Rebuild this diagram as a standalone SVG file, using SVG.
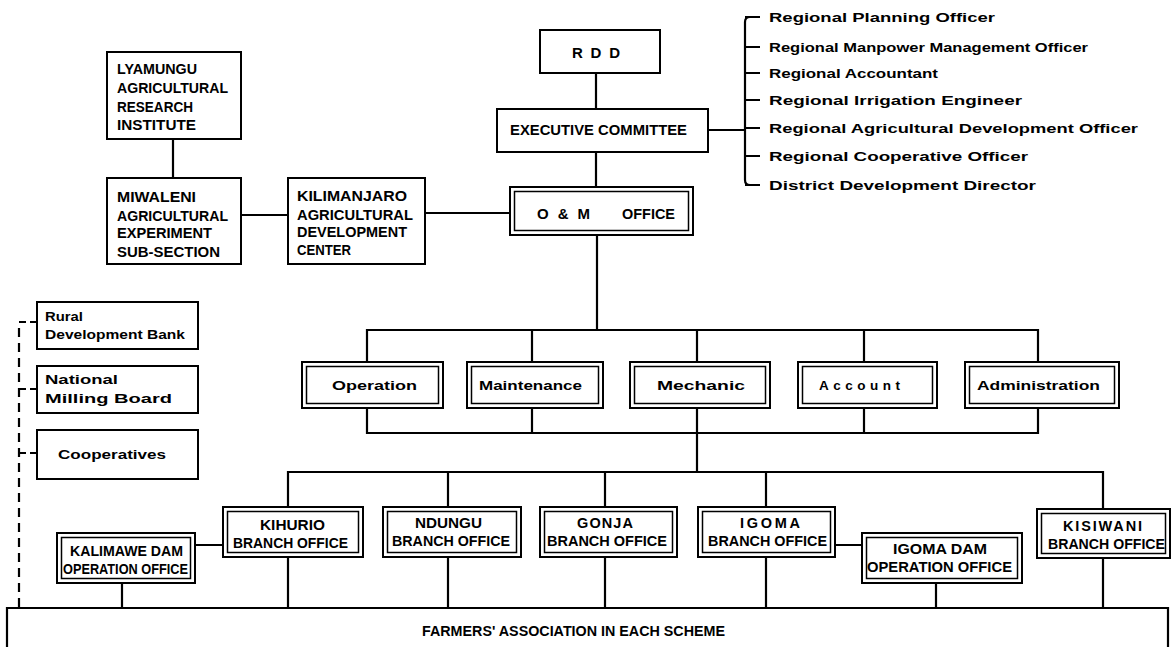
<svg xmlns="http://www.w3.org/2000/svg" width="1171" height="647" viewBox="0 0 1171 647">
<style>
.bx{fill:#fff;stroke:#000;stroke-width:2}
.in{fill:none;stroke:#000;stroke-width:1.5}
.ln{fill:none;stroke:#000;stroke-width:2.2}
.ds{fill:none;stroke:#000;stroke-width:2.2;stroke-dasharray:9 6}
text{font-family:"Liberation Sans",Arial,sans-serif;font-weight:bold;fill:#000}
.t{font-size:15px}
.s{font-size:14.5px}
.r{font-size:13.5px}
</style>
<rect width="1171" height="647" fill="#fff"/>
<g id="connectors">
<path class="ln" d="M173 139V178M241 215H288M425 213H510M596 73V109M596 152V187"/>
<path class="ln" d="M708 130H745M750 17Q745 17 745 22V180Q745 185 750 185M745 17H760M745 47H760M745 73H760M745 100H760M745 128H760M745 156H760M745 185H760"/>
<path class="ln" d="M597 235V330M367 362V330H1038V362M532 330V362M697 330V362M864 330V362"/>
<path class="ln" d="M367 408V433H1038V408M532 408V433M697 408V433M864 408V433M697 433V472"/>
<path class="ln" d="M288 507V472H1103V509M448 472V507M605 472V507M766 472V507"/>
<path class="ln" d="M195 545H223M835 545H862"/>
<path class="ln" d="M122 583V608M288 557V608M448 557V608M605 557V608M766 557V608M936 583V608M1103 558V608"/>
<path class="ds" d="M19 607V322"/>
<path class="ln" d="M19 322H26M30 322H37M19 389H26M30 389H37M19 453H26M30 453H37"/>
</g>
<g id="lyamungu"><rect class="bx" x="107" y="52" width="134" height="87"/>
<text class="t" x="117" y="74" textLength="80" lengthAdjust="spacingAndGlyphs">LYAMUNGU</text>
<text class="t" x="117" y="93" textLength="111" lengthAdjust="spacingAndGlyphs">AGRICULTURAL</text>
<text class="t" x="117" y="112" textLength="76" lengthAdjust="spacingAndGlyphs">RESEARCH</text>
<text class="t" x="117" y="130" textLength="79" lengthAdjust="spacingAndGlyphs">INSTITUTE</text></g>
<g id="miwaleni"><rect class="bx" x="107" y="178" width="134" height="86"/>
<text class="t" x="117" y="202" textLength="79" lengthAdjust="spacingAndGlyphs">MIWALENI</text>
<text class="t" x="117" y="221" textLength="111" lengthAdjust="spacingAndGlyphs">AGRICULTURAL</text>
<text class="t" x="117" y="238" textLength="95" lengthAdjust="spacingAndGlyphs">EXPERIMENT</text>
<text class="t" x="117" y="257" textLength="103" lengthAdjust="spacingAndGlyphs">SUB-SECTION</text></g>
<g id="kilimanjaro"><rect class="bx" x="288" y="178" width="137" height="86"/>
<text class="t" x="297" y="201" textLength="110" lengthAdjust="spacingAndGlyphs">KILIMANJARO</text>
<text class="t" x="297" y="220" textLength="116" lengthAdjust="spacingAndGlyphs">AGRICULTURAL</text>
<text class="t" x="297" y="237" textLength="110" lengthAdjust="spacingAndGlyphs">DEVELOPMENT</text>
<text class="t" x="297" y="255" textLength="54" lengthAdjust="spacingAndGlyphs">CENTER</text></g>
<g id="rdd"><rect class="bx" x="540" y="30" width="120" height="43"/>
<text class="t" x="572" y="58" textLength="48" lengthAdjust="spacing">RDD</text></g>
<g id="exec"><rect class="bx" x="497" y="109" width="211" height="43"/>
<text class="t" x="510" y="135" textLength="177" lengthAdjust="spacingAndGlyphs">EXECUTIVE  COMMITTEE</text></g>
<g id="om"><rect class="bx" x="510" y="187" width="183" height="48"/><rect class="in" x="514.5" y="191.5" width="174" height="39"/>
<text class="t" x="537" y="219" textLength="53" lengthAdjust="spacing">O &amp; M</text>
<text class="t" x="622" y="219" textLength="53" lengthAdjust="spacingAndGlyphs">OFFICE</text></g>
<g id="regional-list">
<text class="r" x="769" y="22" textLength="226" lengthAdjust="spacingAndGlyphs">Regional Planning Officer</text>
<text class="r" x="769" y="52" textLength="319" lengthAdjust="spacingAndGlyphs">Regional Manpower Management Officer</text>
<text class="r" x="769" y="78" textLength="169" lengthAdjust="spacingAndGlyphs">Regional Accountant</text>
<text class="r" x="769" y="105" textLength="253" lengthAdjust="spacingAndGlyphs">Regional Irrigation Engineer</text>
<text class="r" x="769" y="133" textLength="369" lengthAdjust="spacingAndGlyphs">Regional Agricultural Development Officer</text>
<text class="r" x="769" y="161" textLength="259" lengthAdjust="spacingAndGlyphs">Regional Cooperative Officer</text>
<text class="r" x="769" y="190" textLength="267" lengthAdjust="spacingAndGlyphs">District Development Director</text></g>
<g id="rural"><rect class="bx" x="37" y="302" width="161" height="47"/>
<text class="r" x="45" y="321" textLength="38" lengthAdjust="spacingAndGlyphs">Rural</text>
<text class="r" x="45" y="339" textLength="140" lengthAdjust="spacingAndGlyphs">Development Bank</text></g>
<g id="milling"><rect class="bx" x="37" y="366" width="161" height="47"/>
<text class="r" x="45" y="384" textLength="73" lengthAdjust="spacingAndGlyphs">National</text>
<text class="r" x="45" y="403" textLength="127" lengthAdjust="spacingAndGlyphs">Milling Board</text></g>
<g id="coop"><rect class="bx" x="37" y="430" width="161" height="49"/>
<text class="r" x="58" y="459" textLength="108" lengthAdjust="spacingAndGlyphs">Cooperatives</text></g>
<g id="operation"><rect class="bx" x="302" y="362" width="141" height="46"/><rect class="in" x="306.5" y="366.5" width="132" height="37"/>
<text class="r" x="332" y="390" textLength="85" lengthAdjust="spacingAndGlyphs">Operation</text></g>
<g id="maintenance"><rect class="bx" x="467" y="362" width="136" height="46"/><rect class="in" x="471.5" y="366.5" width="127" height="37"/>
<text class="r" x="479" y="390" textLength="103" lengthAdjust="spacingAndGlyphs">Maintenance</text></g>
<g id="mechanic"><rect class="bx" x="630" y="362" width="140" height="46"/><rect class="in" x="634.5" y="366.5" width="131" height="37"/>
<text class="r" x="657" y="390" textLength="88" lengthAdjust="spacingAndGlyphs">Mechanic</text></g>
<g id="account"><rect class="bx" x="798" y="362" width="139" height="46"/><rect class="in" x="802.5" y="366.5" width="130" height="37"/>
<text class="r" x="819" y="390" textLength="81" lengthAdjust="spacing">Account</text></g>
<g id="administration"><rect class="bx" x="965" y="362" width="154" height="46"/><rect class="in" x="969.5" y="366.5" width="145" height="37"/>
<text class="r" x="977" y="390" textLength="123" lengthAdjust="spacingAndGlyphs">Administration</text></g>
<g id="kalimawe"><rect class="bx" x="57" y="533" width="138" height="50"/><rect class="in" x="61.5" y="537.5" width="129" height="41"/>
<text class="s" x="70" y="556" textLength="113" lengthAdjust="spacingAndGlyphs">KALIMAWE DAM</text>
<text class="s" x="63" y="574" textLength="125" lengthAdjust="spacingAndGlyphs">OPERATION OFFICE</text></g>
<g id="kihurio"><rect class="bx" x="223" y="507" width="140" height="50"/><rect class="in" x="227.5" y="511.5" width="131" height="41"/>
<text class="s" x="260" y="530" textLength="65" lengthAdjust="spacingAndGlyphs">KIHURIO</text>
<text class="s" x="233" y="548" textLength="115" lengthAdjust="spacingAndGlyphs">BRANCH OFFICE</text></g>
<g id="ndungu"><rect class="bx" x="383" y="507" width="138" height="50"/><rect class="in" x="387.5" y="511.5" width="129" height="41"/>
<text class="s" x="415" y="528" textLength="67" lengthAdjust="spacingAndGlyphs">NDUNGU</text>
<text class="s" x="392" y="546" textLength="118" lengthAdjust="spacingAndGlyphs">BRANCH OFFICE</text></g>
<g id="gonja"><rect class="bx" x="540" y="507" width="137" height="50"/><rect class="in" x="544.5" y="511.5" width="128" height="41"/>
<text class="s" x="577" y="528" textLength="56" lengthAdjust="spacing">GONJA</text>
<text class="s" x="547" y="546" textLength="120" lengthAdjust="spacingAndGlyphs">BRANCH OFFICE</text></g>
<g id="igoma"><rect class="bx" x="698" y="507" width="137" height="50"/><rect class="in" x="702.5" y="511.5" width="128" height="41"/>
<text class="s" x="740" y="528" textLength="60" lengthAdjust="spacing">IGOMA</text>
<text class="s" x="708" y="546" textLength="119" lengthAdjust="spacingAndGlyphs">BRANCH OFFICE</text></g>
<g id="igoma-dam"><rect class="bx" x="862" y="533" width="160" height="50"/><rect class="in" x="866.5" y="537.5" width="151" height="41"/>
<text class="s" x="893" y="554" textLength="94" lengthAdjust="spacingAndGlyphs">IGOMA  DAM</text>
<text class="s" x="867" y="572" textLength="145" lengthAdjust="spacingAndGlyphs">OPERATION OFFICE</text></g>
<g id="kisiwani"><rect class="bx" x="1037" y="509" width="133" height="49"/><rect class="in" x="1041.5" y="513.5" width="124" height="40"/>
<text class="s" x="1063" y="531" textLength="79" lengthAdjust="spacing">KISIWANI</text>
<text class="s" x="1048" y="549" textLength="117" lengthAdjust="spacingAndGlyphs">BRANCH OFFICE</text></g>
<g id="farmers"><path class="ln" d="M7 660V608H1168V660"/>
<text class="s" x="422" y="636" textLength="303" lengthAdjust="spacingAndGlyphs">FARMERS' ASSOCIATION  IN  EACH SCHEME</text></g>
</svg>
